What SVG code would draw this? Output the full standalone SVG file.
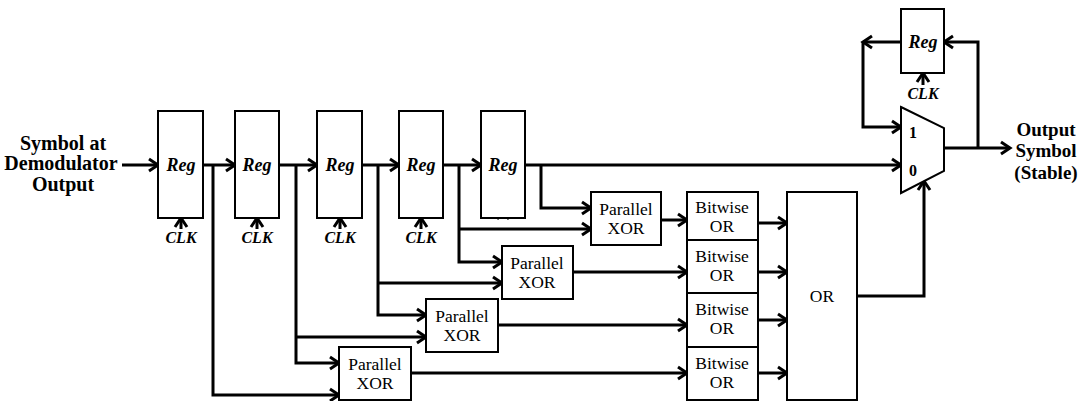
<svg xmlns="http://www.w3.org/2000/svg" width="1080" height="401" viewBox="0 0 1080 401">
<style>
.box{fill:#fff;stroke:#000;stroke-width:2}
.w{fill:none;stroke:#000;stroke-width:3;stroke-linejoin:miter}
.a{marker-end:url(#ah)}
.reg{font-family:"Liberation Serif",serif;font-weight:bold;font-style:italic;font-size:18px;text-anchor:middle}
.clk{font-family:"Liberation Serif",serif;font-weight:bold;font-style:italic;font-size:16px;text-anchor:middle}
.lbl{font-family:"Liberation Serif",serif;font-size:17.5px;text-anchor:middle}
.big{font-family:"Liberation Serif",serif;font-weight:bold;font-size:20px;text-anchor:middle}
.big2{font-family:"Liberation Serif",serif;font-weight:bold;font-size:19px;text-anchor:middle}
.mux{font-family:"Liberation Serif",serif;font-weight:bold;font-size:16px;text-anchor:middle}
</style>
<defs>
<marker id="ah" markerUnits="userSpaceOnUse" markerWidth="16" markerHeight="16" refX="11" refY="7" orient="auto" overflow="visible">
<path d="M2,1 L11,7 L2,13" fill="none" stroke="#000" stroke-width="3"/>
</marker>
</defs>
<rect width="1080" height="401" fill="#fff"/>

<g id="input-label">
<text class="big" x="63" y="150">Symbol at</text>
<text class="big" x="61" y="170">Demodulator</text>
<text class="big" x="63" y="191">Output</text>
</g>
<g id="output-label">
<text class="big2" x="1046" y="136">Output</text>
<text class="big2" x="1046" y="157">Symbol</text>
<text class="big2" x="1046" y="179">(Stable)</text>
</g>

<g id="connectors">
<path class="w a" d="M122,165 H158"/>
<path class="w a" d="M203,165 H235"/>
<path class="w a" d="M279,165 H317"/>
<path class="w a" d="M362,165 H399"/>
<path class="w a" d="M443,165 H481"/>
<path class="w a" d="M525,165 H901"/>
<path class="w a" d="M213,165 V395 H339"/>
<path class="w a" d="M296,165 V363 H339"/>
<path class="w a" d="M296,337 H426"/>
<path class="w a" d="M378,165 V315 H426"/>
<path class="w a" d="M378,283 H502"/>
<path class="w a" d="M459,165 V262 H502"/>
<path class="w a" d="M459,229 H591"/>
<path class="w a" d="M541,165 V208 H591"/>
<path class="w a" d="M661,220 H687"/>
<path class="w a" d="M573,272 H687"/>
<path class="w a" d="M498,325 H687"/>
<path class="w a" d="M411,373 H687"/>
<path class="w a" d="M758,223 H787"/>
<path class="w a" d="M758,272 H787"/>
<path class="w a" d="M758,320 H787"/>
<path class="w a" d="M758,373 H787"/>
<path class="w a" d="M857,296 H924 V181"/>
<path class="w a" d="M944,148 H1010"/>
<path class="w a" d="M978,148 V42 H944"/>
<path class="w a" d="M901,42 H863"/>
<path class="w a" d="M863,42 V127 H901"/>
<path class="w a" d="M181,229 V218"/>
<path class="w a" d="M257,229 V218"/>
<path class="w a" d="M340,229 V218"/>
<path class="w a" d="M421,229 V218"/>
<path class="w a" d="M923,85 V73"/>
<path class="w" d="M497,219 L503,212 L509,219"/>
</g>

<g id="reg1"><rect class="box" x="158" y="111" width="45" height="107"/><text class="reg" x="181" y="171">Reg</text><text class="clk" x="181" y="243">CLK</text></g>
<g id="reg2"><rect class="box" x="235" y="111" width="44" height="107"/><text class="reg" x="257" y="171">Reg</text><text class="clk" x="257" y="243">CLK</text></g>
<g id="reg3"><rect class="box" x="317" y="111" width="45" height="107"/><text class="reg" x="340" y="171">Reg</text><text class="clk" x="340" y="243">CLK</text></g>
<g id="reg4"><rect class="box" x="399" y="111" width="44" height="107"/><text class="reg" x="421" y="171">Reg</text><text class="clk" x="421" y="243">CLK</text></g>
<g id="reg5"><rect class="box" x="481" y="111" width="44" height="107"/><text class="reg" x="503" y="171">Reg</text></g>
<g id="reg-out"><rect class="box" x="901" y="9" width="43" height="64"/><text class="reg" x="923" y="48">Reg</text><text class="clk" x="923" y="99">CLK</text></g>

<g id="mux"><polygon class="box" points="901,107 944,128 944,171 901,193"/><text class="mux" x="913" y="138">1</text><text class="mux" x="913" y="176">0</text></g>

<g id="xor4"><rect class="box" x="591" y="192" width="70" height="53"/><text class="lbl" x="626" y="215">Parallel</text><text class="lbl" x="626" y="234">XOR</text></g>
<g id="xor3"><rect class="box" x="502" y="246" width="71" height="53"/><text class="lbl" x="537" y="269">Parallel</text><text class="lbl" x="537" y="288">XOR</text></g>
<g id="xor2"><rect class="box" x="426" y="299" width="72" height="53"/><text class="lbl" x="462" y="322">Parallel</text><text class="lbl" x="462" y="341">XOR</text></g>
<g id="xor1"><rect class="box" x="339" y="347" width="72" height="53"/><text class="lbl" x="375" y="370">Parallel</text><text class="lbl" x="375" y="389">XOR</text></g>

<g id="bor1"><rect class="box" x="687" y="192" width="71" height="48"/><text class="lbl" x="722" y="213">Bitwise</text><text class="lbl" x="722" y="232">OR</text></g>
<g id="bor2"><rect class="box" x="687" y="240" width="71" height="53"/><text class="lbl" x="722" y="262">Bitwise</text><text class="lbl" x="722" y="281">OR</text></g>
<g id="bor3"><rect class="box" x="687" y="293" width="71" height="54"/><text class="lbl" x="722" y="315">Bitwise</text><text class="lbl" x="722" y="334">OR</text></g>
<g id="bor4"><rect class="box" x="687" y="347" width="71" height="53"/><text class="lbl" x="722" y="369">Bitwise</text><text class="lbl" x="722" y="388">OR</text></g>

<g id="or"><rect class="box" x="787" y="192" width="70" height="208"/><text class="lbl" x="822" y="302">OR</text></g>
</svg>
